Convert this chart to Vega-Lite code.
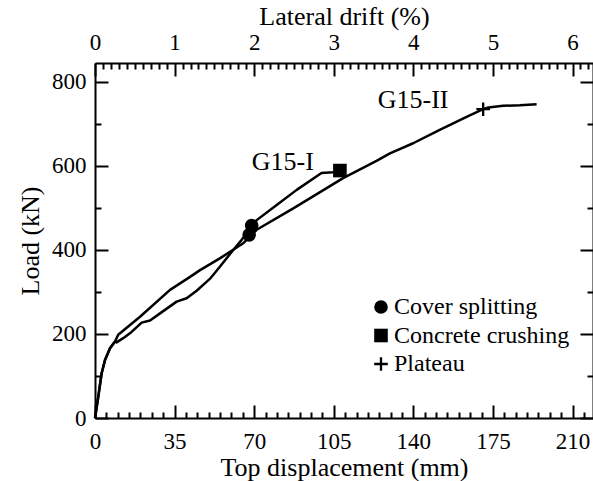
{
  "$schema": "https://vega.github.io/schema/vega-lite/v6.json",
  "width": 498,
  "height": 355,
  "autosize": {"type": "none"},
  "padding": {"left": 95, "top": 63, "right": 0, "bottom": 63},
  "background": "white",
  "config": {
    "view": {"stroke": null},
    "font": "Liberation Serif",
    "axis": {
      "grid": false,
      "labelFont": "Liberation Serif",
      "labelFontSize": 23,
      "labelColor": "black",
      "labelFlush": false,
      "labelOverlap": false,
      "titleFont": "Liberation Serif",
      "titleFontSize": 26,
      "titleFontWeight": "normal",
      "titleColor": "black",
      "tickColor": "black",
      "domainColor": "black",
      "tickWidth": 2,
      "domainWidth": 2
    },
    "legend": {
      "labelFont": "Liberation Serif",
      "labelFontSize": 24,
      "labelColor": "black",
      "labelLimit": 400
    }
  },
  "datasets": {
    "curves": [
      {"series": "G15-I", "mm": 0, "load": 0},
      {"series": "G15-I", "mm": 1.45, "load": 51},
      {"series": "G15-I", "mm": 2.9, "load": 106},
      {"series": "G15-I", "mm": 4.4, "load": 138},
      {"series": "G15-I", "mm": 6.6, "load": 166},
      {"series": "G15-I", "mm": 8.8, "load": 182},
      {"series": "G15-I", "mm": 9.5, "load": 180},
      {"series": "G15-I", "mm": 12.4, "load": 190},
      {"series": "G15-I", "mm": 16.1, "load": 205},
      {"series": "G15-I", "mm": 20.5, "load": 227},
      {"series": "G15-I", "mm": 24.2, "load": 232},
      {"series": "G15-I", "mm": 28.6, "load": 249},
      {"series": "G15-I", "mm": 35.9, "load": 277},
      {"series": "G15-I", "mm": 40.3, "load": 285},
      {"series": "G15-I", "mm": 44.7, "load": 303},
      {"series": "G15-I", "mm": 50.5, "load": 331},
      {"series": "G15-I", "mm": 54.9, "load": 360},
      {"series": "G15-I", "mm": 60.8, "load": 400},
      {"series": "G15-I", "mm": 64.5, "load": 424},
      {"series": "G15-I", "mm": 68.9, "load": 456},
      {"series": "G15-I", "mm": 71.1, "load": 471},
      {"series": "G15-I", "mm": 79.9, "load": 507},
      {"series": "G15-I", "mm": 88.7, "load": 543},
      {"series": "G15-I", "mm": 99.6, "load": 583},
      {"series": "G15-I", "mm": 104.7, "load": 585},
      {"series": "G15-I", "mm": 107.7, "load": 589},
      {"series": "G15-II", "mm": 0, "load": 0},
      {"series": "G15-II", "mm": 1.45, "load": 51},
      {"series": "G15-II", "mm": 2.9, "load": 106},
      {"series": "G15-II", "mm": 4.4, "load": 138},
      {"series": "G15-II", "mm": 6.6, "load": 166},
      {"series": "G15-II", "mm": 8.8, "load": 182},
      {"series": "G15-II", "mm": 10.2, "load": 198},
      {"series": "G15-II", "mm": 19.8, "load": 241},
      {"series": "G15-II", "mm": 33, "load": 305},
      {"series": "G15-II", "mm": 41.8, "load": 336},
      {"series": "G15-II", "mm": 46.2, "load": 352},
      {"series": "G15-II", "mm": 54.9, "load": 380},
      {"series": "G15-II", "mm": 65.2, "load": 416},
      {"series": "G15-II", "mm": 67.8, "load": 430},
      {"series": "G15-II", "mm": 71.1, "load": 448},
      {"series": "G15-II", "mm": 87.2, "load": 499},
      {"series": "G15-II", "mm": 109.1, "load": 571},
      {"series": "G15-II", "mm": 123.8, "load": 612},
      {"series": "G15-II", "mm": 129.7, "load": 630},
      {"series": "G15-II", "mm": 139.9, "load": 654},
      {"series": "G15-II", "mm": 151.6, "load": 686},
      {"series": "G15-II", "mm": 163.4, "load": 717},
      {"series": "G15-II", "mm": 170.7, "load": 735},
      {"series": "G15-II", "mm": 172.9, "load": 739},
      {"series": "G15-II", "mm": 179.5, "load": 743},
      {"series": "G15-II", "mm": 186.8, "load": 744.5},
      {"series": "G15-II", "mm": 194.2, "load": 747}
    ],
    "events": [
      {"event": "Cover splitting", "mm": 68.9, "load": 458},
      {"event": "Cover splitting", "mm": 67.8, "load": 436},
      {"event": "Concrete crushing", "mm": 107.7, "load": 589},
      {"event": "Plateau", "mm": 170.7, "load": 735}
    ],
    "labels": [
      {"label": "G15-I", "mm": 82.6, "load": 609},
      {"label": "G15-II", "mm": 139.9, "load": 757}
    ]
  },
  "resolve": {"axis": {"x": "independent", "y": "independent"}},
  "layer": [
    {
      "data": {"name": "curves"},
      "mark": {"type": "line", "color": "black", "strokeWidth": 2.5, "strokeJoin": "round"},
      "encoding": {
        "x": {
          "field": "mm", "type": "quantitative",
          "scale": {"domain": [0, 219], "nice": false, "zero": false},
          "axis": {
            "orient": "bottom",
            "values": [0, 35, 70, 105, 140, 175, 210],
            "tickSize": -13,
            "labelPadding": 25,
            "labelFont": "Liberation Serif",
            "title": "Top displacement (mm)",
            "titleBaseline": "middle",
            "titleY": 49
          }
        },
        "y": {
          "field": "load", "type": "quantitative",
          "scale": {"domain": [0, 845], "nice": false, "zero": false},
          "axis": {
            "orient": "left",
            "values": [0, 200, 400, 600, 800],
            "tickSize": -13,
            "labelPadding": 22,
            "labelFont": "Liberation Serif",
            "title": "Load (kN)",
            "titleAngle": -90,
            "titleBaseline": "middle",
            "titleAlign": "center",
            "titleX": -65,
            "titleY": 177.5
          }
        },
        "detail": {"field": "series", "type": "nominal"}
      }
    },
    {
      "data": {"name": "events"},
      "mark": {"type": "point", "filled": true, "fill": "black", "opacity": 1, "size": 185},
      "encoding": {
        "x": {
          "field": "mm", "type": "quantitative",
          "scale": {"domain": [0, 219], "nice": false, "zero": false},
          "axis": {
            "orient": "bottom",
            "values": [5, 10, 15, 20, 25, 30, 40, 45, 50, 55, 60, 65, 75, 80, 85, 90, 95, 100, 110, 115, 120, 125, 130, 135, 145, 150, 155, 160, 165, 170, 180, 185, 190, 195, 200, 205, 215],
            "tickSize": -6,
            "labels": false,
            "domain": false,
            "title": null
          }
        },
        "y": {
          "field": "load", "type": "quantitative",
          "scale": {"domain": [0, 845], "nice": false, "zero": false},
          "axis": {
            "orient": "left",
            "values": [100, 300, 500, 700],
            "tickSize": -6,
            "labels": false,
            "domain": false,
            "title": null
          }
        },
        "shape": {
          "field": "event", "type": "nominal",
          "scale": {
            "domain": ["Cover splitting", "Concrete crushing", "Plateau"],
            "range": ["circle", "square", "M-1,-0.17H-0.17V-1H0.17V-0.17H1V0.17H0.17V1H-0.17V0.17H-1Z"]
          },
          "legend": {
            "orient": "none",
            "legendX": 274,
            "legendY": 232,
            "title": null,
            "padding": 0,
            "rowPadding": 4.5,
            "labelOffset": 1,
            "labelFont": "Liberation Serif",
            "symbolSize": 185,
            "symbolFillColor": "black",
            "symbolStrokeWidth": 0,
            "encode": {
              "symbols": {
                "update": {
                  "fill": {"value": "black"},
                  "fillOpacity": {"value": 1},
                  "opacity": {"value": 1}
                }
              }
            }
          }
        }
      }
    },
    {
      "data": {"name": "labels"},
      "mark": {"type": "text", "font": "Liberation Serif", "fontSize": 26, "color": "black", "baseline": "middle", "align": "center"},
      "encoding": {
        "x": {
          "field": "mm", "type": "quantitative",
          "scale": {"domain": [0, 219], "nice": false, "zero": false},
          "axis": {
            "orient": "top",
            "values": [0, 35, 70, 105, 140, 175, 210],
            "labelExpr": "format(datum.value / 35, 'd')",
            "tickSize": -13,
            "labelPadding": 22,
            "labelFont": "Liberation Serif",
            "title": "Lateral drift (%)",
            "titleBaseline": "middle",
            "titleY": -47
          }
        },
        "y": {
          "field": "load", "type": "quantitative",
          "scale": {"domain": [0, 845], "nice": false, "zero": false},
          "axis": {
            "orient": "right",
            "values": [0, 200, 400, 600, 800],
            "tickSize": -13,
            "labels": false,
            "title": null
          }
        },
        "text": {"field": "label", "type": "nominal"}
      }
    },
    {
      "data": {"name": "labels"},
      "mark": {"type": "point", "opacity": 0},
      "encoding": {
        "x": {
          "field": "mm", "type": "quantitative",
          "scale": {"domain": [0, 219], "nice": false, "zero": false},
          "axis": {
            "orient": "top",
            "values": [3.5, 7, 10.5, 14, 17.5, 21, 24.5, 28, 31.5, 38.5, 42, 45.5, 49, 52.5, 56, 59.5, 63, 66.5, 73.5, 77, 80.5, 84, 87.5, 91, 94.5, 98, 101.5, 108.5, 112, 115.5, 119, 122.5, 126, 129.5, 133, 136.5, 143.5, 147, 150.5, 154, 157.5, 161, 164.5, 168, 171.5, 178.5, 182, 185.5, 189, 192.5, 196, 199.5, 203, 206.5, 213.5, 217],
            "tickSize": -6,
            "labels": false,
            "domain": false,
            "title": null
          }
        },
        "y": {
          "field": "load", "type": "quantitative",
          "scale": {"domain": [0, 845], "nice": false, "zero": false},
          "axis": {
            "orient": "right",
            "values": [100, 300, 500, 700],
            "tickSize": -6,
            "labels": false,
            "domain": false,
            "title": null
          }
        }
      }
    }
  ]
}
